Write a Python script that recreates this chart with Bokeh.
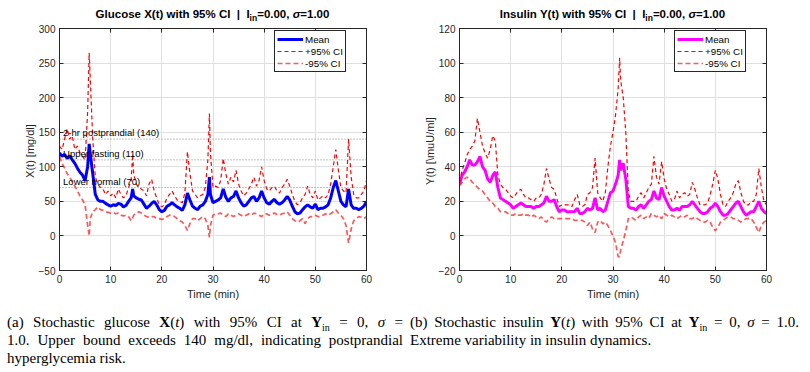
from bokeh.plotting import figure
from bokeh.models import (Range1d, FixedTicker, LinearAxis, Span, Legend,
                          Div, ColumnDataSource)
from bokeh.layouts import row, column
from bokeh.embed import file_html
from bokeh.resources import INLINE
from bokeh.core.properties import value

# ---------------- data ----------------
t_glu = [0, 0.5, 1, 1.5, 2, 2.5, 3, 3.5, 4, 4.5,
         5, 5.5, 5.8, 6, 6.5, 7, 7.5, 8, 8.5, 9,
         9.5, 10, 10.5, 11, 11.5, 12, 12.5, 13, 13.5, 14,
         14.3, 14.5, 15, 15.5, 16, 16.5, 17, 17.5, 18, 18.5,
         19, 19.5, 20, 20.5, 21, 21.5, 22, 22.5, 23, 23.5,
         24, 24.5, 25, 25.5, 26, 26.5, 27, 27.5, 28, 28.5,
         29, 29.3, 29.5, 30, 30.5, 31, 31.5, 32, 32.5, 33,
         33.5, 34, 34.5, 35, 35.5, 36, 36.5, 37, 37.5, 38,
         38.5, 39, 39.5, 40, 40.5, 41, 41.5, 42, 42.5, 43,
         43.5, 44, 44.5, 45, 45.5, 46, 46.5, 47, 47.5, 48,
         48.5, 49, 49.5, 50, 50.5, 51, 51.5, 52, 52.5, 53,
         53.5, 54, 54.5, 55, 55.5, 56, 56.5, 57, 57.5, 58,
         58.5, 59, 59.5, 60]
glu_mean = [120, 115, 118, 112, 116, 110, 105, 98, 92, 88,
            80, 100, 133, 120, 90, 60, 52, 50, 50, 47,
            45, 43, 45, 44, 47, 46, 42, 44, 50, 55,
            68, 58, 55, 53, 52, 46, 40, 43, 47, 50,
            45, 38, 35, 37, 43, 45, 48, 45, 42, 40,
            37, 45, 62, 52, 43, 40, 38, 43, 45, 50,
            60, 85, 60, 48, 50, 52, 55, 68, 56, 50,
            55, 57, 65, 55, 48, 43, 45, 50, 55, 57,
            50, 55, 65, 55, 48, 46, 50, 53, 48, 46,
            48, 52, 57, 52, 43, 35, 32, 33, 38, 42,
            45, 42, 40, 46, 38, 40, 40, 42, 45, 55,
            70, 80, 65, 50, 45, 42, 68, 45, 40, 40,
            38, 40, 43, 50]
glu_upper = [130, 125, 140, 155, 140, 145, 125, 130, 120, 115,
             110, 180, 265, 230, 140, 85, 75, 70, 68, 60,
             65, 58, 62, 55, 68, 60, 55, 58, 70, 80,
             118, 90, 75, 70, 68, 65, 58, 75, 82, 65,
             55, 45, 42, 45, 55, 60, 65, 58, 52, 50,
             48, 62, 122, 90, 65, 60, 55, 58, 60, 70,
             110, 177, 120, 70, 72, 70, 80, 112, 90, 75,
             85, 78, 95, 75, 65, 58, 62, 68, 75, 85,
             72, 80, 100, 80, 68, 65, 70, 72, 65, 62,
             70, 75, 82, 72, 60, 50, 45, 48, 55, 60,
             72, 60, 55, 65, 52, 55, 58, 55, 60, 75,
             100, 125, 95, 70, 65, 62, 140, 85, 60, 55,
             55, 60, 65, 80]
glu_lower = [115, 105, 98, 90, 85, 78, 72, 65, 58, 52,
             45, 15, 0, 25, 35, 38, 42, 38, 37, 35,
             34, 33, 34, 32, 33, 30, 29, 30, 28, 22,
             26, 30, 33, 35, 33, 30, 28, 27, 28, 28,
             25, 25, 24, 25, 28, 30, 30, 28, 25, 22,
             20, 15, 8, 18, 25, 25, 22, 25, 28, 25,
             15, -2, 15, 30, 32, 32, 33, 30, 28, 32,
             30, 28, 30, 32, 30, 28, 30, 32, 30, 33,
             32, 30, 28, 32, 32, 30, 32, 33, 31, 30,
             32, 33, 35, 30, 25, 22, 20, 22, 25, 18,
             25, 28, 28, 30, 28, 28, 30, 32, 30, 32,
             35, 38, 33, 30, 25, 15, -10, 10, 22, 25,
             28, 27, 25, 28]

t_ins = [0, 0.5, 1, 1.5, 2, 2.5, 3, 3.5, 4, 4.5,
         5, 5.5, 6, 6.5, 7, 7.5, 8, 8.5, 9, 9.5,
         10, 10.5, 11, 11.5, 12, 12.5, 13, 13.5, 14, 14.5,
         15, 15.5, 16, 16.5, 17, 17.5, 18, 18.5, 19, 19.5,
         20, 20.5, 21, 21.5, 22, 22.5, 23, 23.5, 24, 24.5,
         25, 25.5, 26, 26.5, 27, 27.5, 28, 28.5, 29, 29.5,
         30, 30.5, 31, 31.3, 31.5, 32, 32.5, 33, 33.5, 34,
         34.5, 35, 35.5, 36, 36.5, 37, 37.5, 38, 38.5, 39,
         39.5, 40, 40.5, 41, 41.5, 42, 42.5, 43, 43.5, 44,
         44.5, 45, 45.5, 46, 46.5, 47, 47.5, 48, 48.5, 49,
         49.5, 50, 50.5, 51, 51.5, 52, 52.5, 53, 53.5, 54,
         54.5, 55, 55.5, 56, 56.5, 57, 57.5, 58, 58.5, 59,
         59.5, 60]
ins_mean = [30, 35, 37, 40, 44, 41, 41, 43, 46, 40,
            38, 33, 31, 35, 37, 28, 22, 21, 20, 19,
            18, 16, 17, 18, 19, 18, 17, 17, 17, 16,
            17, 17, 18, 19, 23, 20, 20, 21, 17, 14,
            15, 15, 14, 14, 14, 14, 16, 13, 13, 14,
            16, 15, 16, 22, 15, 16, 14, 15, 20, 25,
            26, 30, 35, 44, 38, 42, 33, 17, 16, 16,
            15, 17, 18, 16, 18, 20, 21, 26, 22, 21,
            28, 23, 20, 17, 15, 15, 16, 15, 17, 17,
            17, 18, 20, 18, 16, 14, 13, 13, 14, 16,
            17, 19, 17, 14, 12, 12, 13, 15, 17, 19,
            20, 17, 14, 12, 13, 14, 14, 17, 20, 16,
            14, 13]
ins_upper = [31, 38, 42, 47, 50, 52, 55, 68, 60, 52,
             48, 45, 50, 58, 55, 35, 30, 28, 27, 25,
             23, 22, 24, 26, 27, 24, 22, 22, 21, 20,
             22, 22, 24, 30, 39, 33, 28, 27, 22, 17,
             18, 18, 18, 18, 17, 21, 24, 18, 17, 18,
             24, 25, 28, 45, 25, 22, 20, 25, 40, 52,
             60, 70, 85, 103, 90, 80, 60, 25, 20, 20,
             20, 23, 25, 22, 25, 28, 30, 46, 34, 30,
             43, 33, 27, 24, 20, 21, 26, 22, 24, 25,
             23, 24, 31, 27, 22, 18, 18, 18, 19, 24,
             30, 38, 33, 24, 18, 17, 20, 22, 25, 30,
             32, 25, 20, 18, 18, 20, 20, 24, 39, 28,
             20, 18]
ins_lower = [29, 31, 33, 34, 33, 31, 30, 28, 27, 26,
             24, 22, 20, 19, 17, 16, 14, 14, 14, 13,
             12, 12, 13, 12, 12, 13, 12, 12, 11, 12,
             11, 10, 11, 9, 8, 10, 11, 10, 10, 10,
             10, 10, 10, 10, 10, 9, 9, 9, 9, 8,
             6, 8, 4, 2, 8, 9, 7, 8, 6, 3,
             0, -4, -12, -12, -8, -3, 3, 10, 11, 10,
             9, 11, 12, 10, 11, 10, 13, 12, 11, 12,
             10, 13, 12, 11, 12, 11, 10, 11, 12, 11,
             12, 10, 10, 11, 10, 9, 8, 8, 9, 8,
             5, 3, 5, 8, 9, 10, 11, 11, 10, 10,
             9, 8, 9, 10, 10, 10, 8, 5, 2, 6,
             8, 9]

thr_values = [140, 110, 70]
thr_labels = ["2-hr postprandial (140)", "Upper fasting (110)", "Lower normal (70)"]
thr_x = [0.7, 0.7, 0.7]

x_ticks = [0, 10, 20, 30, 40, 50, 60]
glu_ticks = [-50, 0, 50, 100, 150, 200, 250, 300]
ins_ticks = [-20, 0, 20, 40, 60, 80, 100, 120]
legend_labels = ["Mean", "+95% CI", "-95% CI"]

FONT = "Liberation Sans"
AX = "#262626"


def make_fig(t, mean, upper, lower, mean_color, yr, yticks, ylabel,
             border_left, border_right, thresholds=False):
    p = figure(frame_width=307, frame_height=242, min_border_left=border_left,
               min_border_right=border_right, min_border_top=6, min_border_bottom=32,
               x_range=Range1d(0, 60), y_range=Range1d(*yr), title=None,
               output_backend="svg", toolbar_location=None,
               background_fill_color="white", border_fill_color="white")
    p.outline_line_color = AX
    p.outline_line_width = 1
    p.outline_line_alpha = 1

    for ax, ticks in ((p.xaxis[0], x_ticks), (p.yaxis[0], yticks)):
        ax.ticker = FixedTicker(ticks=ticks)
        ax.major_tick_in = 4
        ax.major_tick_out = 0
        ax.minor_tick_line_color = None
        ax.axis_line_color = AX
        ax.major_tick_line_color = AX
        ax.major_label_text_font = FONT
        ax.major_label_text_font_size = "10px"
        ax.major_label_text_color = AX
        ax.major_label_standoff = 4
        ax.axis_label_text_font = FONT
        ax.axis_label_text_font_size = "11px"
        ax.axis_label_text_font_style = "normal"
        ax.axis_label_text_color = AX
    p.xaxis.axis_label = "Time (min)"
    p.xaxis.axis_label_standoff = 2
    p.yaxis.axis_label = ylabel
    p.yaxis.axis_label_standoff = 0

    top = LinearAxis(ticker=FixedTicker(ticks=x_ticks), major_label_text_font_size="1px",
                     major_label_text_color=None,
                     major_tick_in=4, major_tick_out=0, minor_tick_line_color=None,
                     axis_line_color=AX, major_tick_line_color=AX, major_label_standoff=0)
    right = LinearAxis(ticker=FixedTicker(ticks=yticks), major_label_text_font_size="1px",
                       major_label_text_color=None,
                       major_tick_in=4, major_tick_out=0, minor_tick_line_color=None,
                       axis_line_color=AX, major_tick_line_color=AX, major_label_standoff=0)
    p.add_layout(top, "above")
    p.add_layout(right, "right")

    p.xgrid.ticker = FixedTicker(ticks=x_ticks)
    p.ygrid.ticker = FixedTicker(ticks=yticks)
    p.grid.grid_line_color = "#e0e0e0"
    p.grid.grid_line_width = 1

    if thresholds:
        for v in thr_values:
            p.add_layout(Span(location=v, dimension="width", line_color="#8a8a8a",
                              line_dash="1 2", line_width=1, level="underlay"))

    src = ColumnDataSource(dict(t=t, m=mean, u=upper, l=lower))
    r_m = p.line("t", "m", source=src, line_color=mean_color, line_width=3)
    r_u = p.line("t", "u", source=src, line_color="#ff0000", line_width=1.2, line_dash="4 3")
    r_l = p.line("t", "l", source=src, line_color="#ff2020", line_alpha=0.75,
                 line_width=1.7, line_dash="5 3")

    if thresholds:
        tsrc = ColumnDataSource(dict(x=thr_x, y=thr_values, s=thr_labels))
        p.text("x", "y", text="s", source=tsrc, text_font=value(FONT),
               text_font_size="9.5px", text_baseline="bottom", text_color="black",
               y_offset=-1)

    leg = Legend(items=[(legend_labels[0], [r_m]), (legend_labels[1], [r_u]),
                        (legend_labels[2], [r_l])],
                 location=(215, 198), orientation="vertical",
                 border_line_color=AX, border_line_width=1, border_line_alpha=1,
                 background_fill_color="white", background_fill_alpha=1,
                 label_text_font=FONT, label_text_font_size="9.8px", label_text_color="black",
                 glyph_width=26, glyph_height=12, label_height=12, label_width=20,
                 label_standoff=2, spacing=0, padding=2, margin=0)
    p.add_layout(leg)
    return p


def title_div(html, border_left, width):
    return Div(text=(f"<div style=\"width:307px;margin-left:{border_left}px;text-align:center;"
                     "font-family:'Liberation Sans';font-weight:bold;font-size:11.5px;"
                     f"line-height:13px;color:#000;padding-top:8px;white-space:nowrap;\">{html}</div>"),
               width=width, height=22, margin=(0, 0, 0, 0))


SUB = "<sub style='font-size:8.5px;line-height:0;vertical-align:-3px'>in</sub>"
p1 = make_fig(t_glu, glu_mean, glu_upper, glu_lower, "#0000ff", (-50, 300), glu_ticks,
              "X(t)  [mg/dl]", 59, 42, thresholds=True)
p2 = make_fig(t_ins, ins_mean, ins_upper, ins_lower, "#ff00ff", (-20, 120), ins_ticks,
              "Y(t)  [\\muU/ml]", 51, 42)
t1 = title_div(f"Glucose X(t) with 95% CI&nbsp; |&nbsp; I{SUB}=0.00, <i>σ</i>=1.00", 59, 408)
t2 = title_div(f"Insulin Y(t) with 95% CI&nbsp; |&nbsp; I{SUB}=0.00, <i>σ</i>=1.00", 51, 400)

line_j = "text-align:justify;text-align-last:justify;white-space:nowrap;"
line_l = "text-align:left;white-space:nowrap;"
cap = (
    "<div style=\"display:flex;width:796px;margin-left:7px;font-family:'Liberation Serif';font-size:15px;"
    "line-height:18px;color:#000;padding-top:11px;\">"
    "<div style='width:396px;margin-right:7px;'>"
    f"<div style='{line_j}'>(a) Stochastic glucose <b>X</b>(<i>t</i>) with 95% CI at "
    "<b>Y</b><sub style='font-size:10px;line-height:0'>in</sub> = 0, <i>σ</i> =</div>"
    f"<div style='{line_j}'>1.0. Upper bound exceeds 140 mg/dl, indicating postprandial</div>"
    f"<div style='{line_l}'>hyperglycemia risk.</div>"
    "</div>"
    "<div style='width:389px;'>"
    f"<div style='{line_j}'>(b) Stochastic insulin <b>Y</b>(<i>t</i>) with 95% CI at "
    "<b>Y</b><sub style='font-size:10px;line-height:0'>in</sub> = 0, <i>σ</i> = 1.0.</div>"
    f"<div style='{line_l}'>Extreme variability in insulin dynamics.</div>"
    "</div></div>"
)
div = Div(text=cap, width=808, height=62, margin=(0, 0, 0, 0))

layout = column(row(column(t1, p1), column(t2, p2)), div)
open("out.html", "w").write(file_html(layout, INLINE))
